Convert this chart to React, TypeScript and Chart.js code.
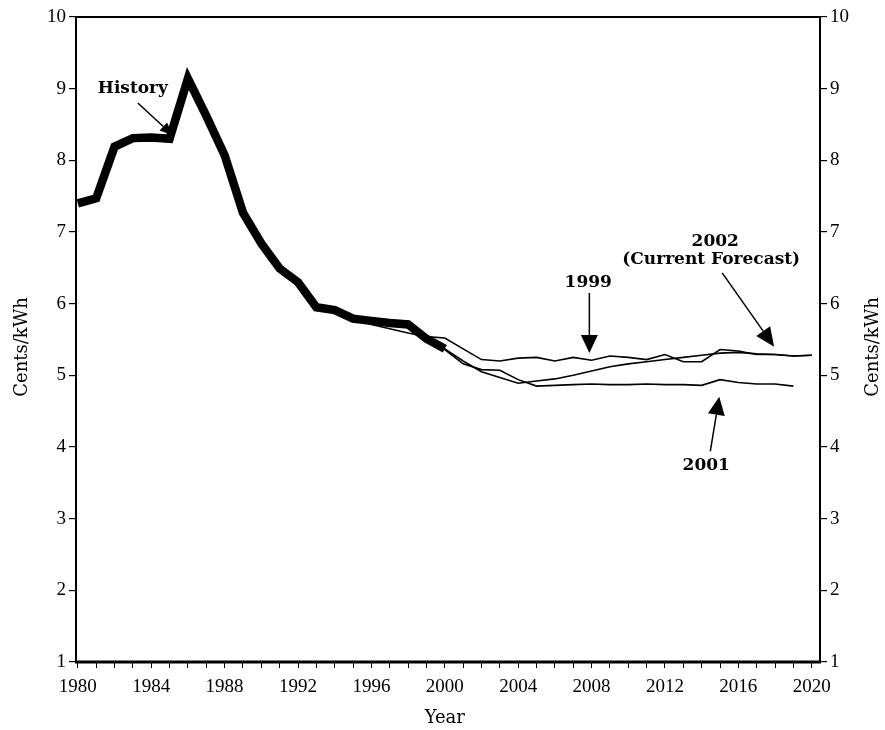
import React, { useEffect, useRef } from "react";
import { Chart, registerables } from "chart.js";

Chart.register(...registerables);

// Average electricity price, cents per kilowatt-hour
const historyYears = [1980, 1981, 1982, 1983, 1984, 1985, 1986, 1987, 1988, 1989, 1990, 1991, 1992, 1993, 1994, 1995, 1996, 1997, 1998, 1999, 2000];
const historyValues = [7.40, 7.47, 8.19, 8.31, 8.32, 8.30, 9.14, 8.62, 8.07, 7.27, 6.84, 6.49, 6.30, 5.95, 5.91, 5.79, 5.76, 5.73, 5.71, 5.51, 5.37];

const forecast1999Years = [1995, 1996, 1997, 1998, 1999, 2000, 2001, 2002, 2003, 2004, 2005, 2006, 2007, 2008, 2009, 2010, 2011, 2012, 2013, 2014, 2015, 2016, 2017, 2018, 2019, 2020];
const forecast1999Values = [5.79, 5.71, 5.65, 5.59, 5.54, 5.52, 5.37, 5.22, 5.20, 5.24, 5.25, 5.20, 5.25, 5.21, 5.27, 5.25, 5.22, 5.29, 5.19, 5.19, 5.36, 5.34, 5.29, 5.29, 5.27, 5.28];

const forecast2001Years = [1998, 1999, 2000, 2001, 2002, 2003, 2004, 2005, 2006, 2007, 2008, 2009, 2010, 2011, 2012, 2013, 2014, 2015, 2016, 2017, 2018, 2019];
const forecast2001Values = [5.71, 5.50, 5.36, 5.16, 5.08, 5.07, 4.94, 4.85, 4.86, 4.87, 4.88, 4.87, 4.87, 4.88, 4.87, 4.87, 4.86, 4.94, 4.90, 4.88, 4.88, 4.85];

const forecast2002Years = [2000, 2001, 2002, 2003, 2004, 2005, 2006, 2007, 2008, 2009, 2010, 2011, 2012, 2013, 2014, 2015, 2016, 2017, 2018, 2019, 2020];
const forecast2002Values = [5.37, 5.20, 5.05, 4.97, 4.89, 4.92, 4.95, 5.00, 5.06, 5.12, 5.16, 5.19, 5.22, 5.25, 5.28, 5.31, 5.32, 5.30, 5.29, 5.27, 5.28];

const xTickYears = [1980, 1981, 1982, 1983, 1984, 1985, 1986, 1987, 1988, 1989, 1990, 1991, 1992, 1993, 1994, 1995, 1996, 1997, 1998, 1999, 2000, 2001, 2002, 2003, 2004, 2005, 2006, 2007, 2008, 2009, 2010, 2011, 2012, 2013, 2014, 2015, 2016, 2017, 2018, 2019, 2020];
const yTickValues = [1, 2, 3, 4, 5, 6, 7, 8, 9, 10];

const TICK_FONT = "'Liberation Serif', serif";
const TEXT_FONT = "'DejaVu Serif', serif";

const toPoints = (xs: number[], ys: number[]) => xs.map((x, i) => ({ x, y: ys[i] }));

function drawArrow(ctx: CanvasRenderingContext2D, x1: number, y1: number, x2: number, y2: number, headLen: number, headWidth: number) {
  const ang = Math.atan2(y2 - y1, x2 - x1);
  const bx = x2 - headLen * Math.cos(ang);
  const by = y2 - headLen * Math.sin(ang);
  ctx.beginPath();
  ctx.moveTo(x1, y1);
  ctx.lineTo(bx, by);
  ctx.lineWidth = 1.5;
  ctx.strokeStyle = "#000";
  ctx.stroke();
  const nx = -Math.sin(ang) * headWidth / 2;
  const ny = Math.cos(ang) * headWidth / 2;
  ctx.beginPath();
  ctx.moveTo(x2, y2);
  ctx.lineTo(bx + nx, by + ny);
  ctx.lineTo(bx - nx, by - ny);
  ctx.closePath();
  ctx.fillStyle = "#000";
  ctx.fill();
}

const decorations = {
  id: "decorations",
  afterDraw(chart: any) {
    const { ctx, chartArea, scales } = chart;
    const px = (v: number) => scales.x.getPixelForValue(v);
    const py = (v: number) => scales.y.getPixelForValue(v);
    ctx.save();

    // plot frame
    ctx.strokeStyle = "#000";
    ctx.lineWidth = 2;
    ctx.beginPath();
    ctx.moveTo(chartArea.left, chartArea.bottom);
    ctx.lineTo(chartArea.left, chartArea.top);
    ctx.lineTo(chartArea.right, chartArea.top);
    ctx.lineTo(chartArea.right, chartArea.bottom);
    ctx.stroke();
    ctx.lineWidth = 3;
    ctx.beginPath();
    ctx.moveTo(chartArea.left - 1, chartArea.bottom);
    ctx.lineTo(chartArea.right + 1, chartArea.bottom);
    ctx.stroke();

    // axis titles
    ctx.fillStyle = "#000";
    ctx.font = `18px ${TEXT_FONT}`;
    ctx.textAlign = "center";
    ctx.textBaseline = "middle";
    ctx.fillText("Year", px(2000), 718);
    const title = "Cents/kWh";
    for (const cx of [22, 873]) {
      ctx.save();
      ctx.translate(cx, 347);
      ctx.rotate(-Math.PI / 2);
      ctx.fillText(title, 0, 0);
      ctx.restore();
    }

    // annotations
    ctx.font = `bold 17px ${TEXT_FONT}`;
    ctx.fillText("History", px(1983.0), py(9.0));
    drawArrow(ctx, px(1983.27), py(8.8), px(1985.18), py(8.35), 13, 11);

    ctx.fillText("1999", px(2007.82), py(6.29));
    drawArrow(ctx, px(2007.88), py(6.15), px(2007.88), py(5.31), 18, 17);

    ctx.fillText("2002", px(2014.74), py(6.87));
    ctx.fillText("(Current Forecast)", px(2014.52), py(6.62));
    drawArrow(ctx, px(2015.12), py(6.43), px(2017.95), py(5.40), 19, 17);

    ctx.fillText("2001", px(2014.25), py(3.74));
    drawArrow(ctx, px(2014.47), py(3.94), px(2014.96), py(4.70), 18, 17);

    ctx.restore();
  },
};

export default function App() {
  const canvasRef = useRef<HTMLCanvasElement | null>(null);

  useEffect(() => {
    if (!canvasRef.current) return;
    const tickFont = { family: TICK_FONT, size: 19 };
    const yAxis = (position: "left" | "right", width: number) => ({
      type: "linear" as const,
      position,
      min: 1,
      max: 10,
      afterBuildTicks: (scale: any) => {
        scale.ticks = yTickValues.map((v) => ({ value: v }));
      },
      afterFit: (scale: any) => {
        scale.width = width;
      },
      border: { display: false },
      grid: { drawOnChartArea: false, drawTicks: true, tickLength: 7, color: "#000", lineWidth: 1.2 },
      ticks: { color: "#000", font: tickFont, padding: 3, autoSkip: false },
    });

    const chart = new Chart(canvasRef.current, {
      type: "line",
      data: {
        datasets: [
          {
            label: "History",
            data: toPoints(historyYears, historyValues),
            borderColor: "#000",
            borderWidth: 8.5,
            borderJoinStyle: "miter",
            pointRadius: 0,
            tension: 0,
          },
          {
            label: "1999",
            data: toPoints(forecast1999Years, forecast1999Values),
            borderColor: "#000",
            borderWidth: 1.6,
            pointRadius: 0,
            tension: 0,
          },
          {
            label: "2001",
            data: toPoints(forecast2001Years, forecast2001Values),
            borderColor: "#000",
            borderWidth: 1.6,
            pointRadius: 0,
            tension: 0,
          },
          {
            label: "2002 (Current Forecast)",
            data: toPoints(forecast2002Years, forecast2002Values),
            borderColor: "#000",
            borderWidth: 1.6,
            pointRadius: 0,
            tension: 0,
          },
        ],
      },
      options: {
        animation: false,
        responsive: false,
        maintainAspectRatio: false,
        layout: { padding: { top: 17, left: 0, right: 0, bottom: 0 } },
        plugins: { legend: { display: false }, tooltip: { enabled: false }, title: { display: false } },
        scales: {
          x: {
            type: "linear",
            position: "bottom",
            min: 1979.9,
            max: 2020.45,
            afterBuildTicks: (scale: any) => {
              scale.ticks = xTickYears.map((v) => ({ value: v }));
            },
            afterFit: (scale: any) => {
              scale.height = 68;
            },
            border: { display: false },
            grid: { drawOnChartArea: false, drawTicks: true, tickLength: 6, color: "#000", lineWidth: 1 },
            ticks: {
              color: "#000",
              font: tickFont,
              padding: 8,
              autoSkip: false,
              maxRotation: 0,
              callback: (v: any) => (Number(v) % 4 === 0 ? String(v) : ""),
            },
          },
          y: yAxis("left", 76),
          y2: yAxis("right", 65),
        },
      },
      plugins: [decorations],
    });
    return () => chart.destroy();
  }, []);

  return (
    <div style={{ position: "fixed", left: 0, top: 0, width: 885, height: 730, background: "#fff" }}>
      <canvas ref={canvasRef} width={885} height={730} style={{ display: "block", width: 885, height: 730 }} />
    </div>
  );
}
